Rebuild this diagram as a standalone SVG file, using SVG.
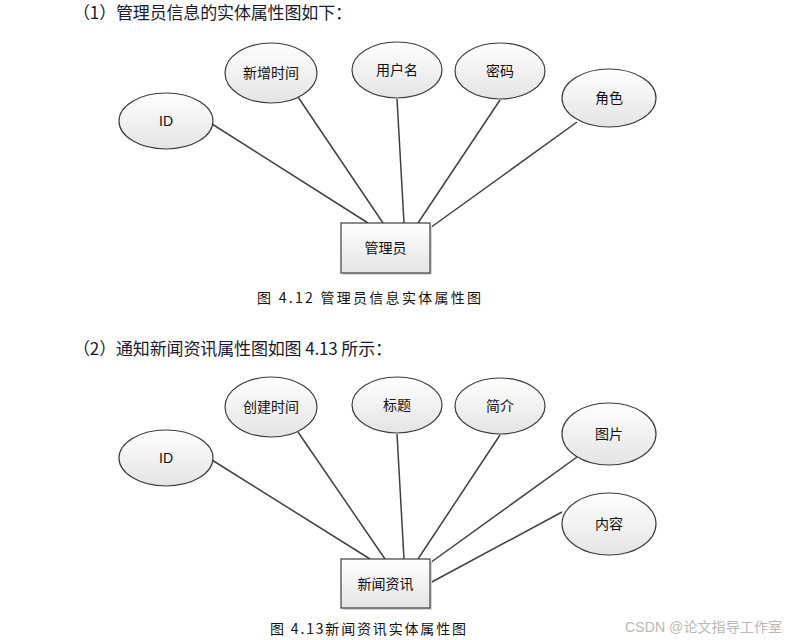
<svg xmlns="http://www.w3.org/2000/svg" width="789" height="640" viewBox="0 0 789 640">
<defs>
<linearGradient id="g" x1="0" y1="0" x2="0" y2="1">
<stop offset="0" stop-color="#ffffff"/>
<stop offset="1" stop-color="#e4e4e4"/>
</linearGradient>
<style>
.e{fill:url(#g);stroke:#3c3c3c;stroke-width:1.2}
.r{fill:url(#g);stroke:#3c3c3c;stroke-width:1.2}
.sh{fill:#d8d8d8;stroke:none}
.c line{stroke:#404040;stroke-width:1.5}
.t{font-family:"Liberation Sans","Noto Sans CJK SC",sans-serif;font-size:14px;fill:#111;text-anchor:middle;dominant-baseline:central}
.h{font-family:"Noto Sans CJK SC","Liberation Serif",serif;font-size:17px;fill:#1a1a2e}
.cap{font-family:"Noto Sans CJK SC","Liberation Serif",serif;font-size:14px;fill:#111}
.wm{font-family:"Liberation Sans","Noto Sans CJK SC",sans-serif;font-size:14px;fill:#b8b8b8}
</style>
</defs>
<rect width="789" height="640" fill="#fff"/>
<text class="h" x="73" y="19" textLength="279" lengthAdjust="spacing">（1）管理员信息的实体属性图如下：</text>
<g class="c">
<line x1="212" y1="124" x2="368" y2="223"/>
<line x1="298" y1="97" x2="383" y2="223"/>
<line x1="397" y1="99" x2="404" y2="223"/>
<line x1="500" y1="100" x2="418" y2="223"/>
<line x1="577" y1="122" x2="430" y2="228"/>
</g>
<g id="n-id1"><ellipse class="e" cx="166" cy="121" rx="47" ry="28"/><text class="t" x="166" y="121">ID</text></g>
<g id="n-time1"><ellipse class="e" cx="271" cy="73" rx="46" ry="30"/><text class="t" x="271" y="73">新增时间</text></g>
<g id="n-user"><ellipse class="e" cx="397" cy="70" rx="45" ry="28"/><text class="t" x="397" y="70">用户名</text></g>
<g id="n-pwd"><ellipse class="e" cx="500" cy="71" rx="45" ry="28"/><text class="t" x="500" y="71">密码</text></g>
<g id="n-role"><ellipse class="e" cx="609" cy="98" rx="47" ry="29"/><text class="t" x="609" y="98">角色</text></g>
<g id="n-admin"><rect class="sh" x="343" y="225" width="89" height="50"/><rect class="r" x="341" y="223" width="89" height="50"/><text class="t" x="385.5" y="248">管理员</text></g>
<text class="cap" x="257" y="303" textLength="224" lengthAdjust="spacing">图 4.12  管理员信息实体属性图</text>

<text class="h" x="73" y="355" textLength="319" lengthAdjust="spacing">（2）通知新闻资讯属性图如图 4.13 所示：</text>
<g class="c">
<line x1="212" y1="460" x2="370" y2="559"/>
<line x1="298" y1="432" x2="385" y2="559"/>
<line x1="397" y1="434" x2="404" y2="559"/>
<line x1="500" y1="435" x2="418" y2="559"/>
<line x1="577" y1="457" x2="430" y2="563"/>
<line x1="562" y1="512" x2="430" y2="583"/>
</g>
<g id="n-id2"><ellipse class="e" cx="166" cy="458" rx="47" ry="28"/><text class="t" x="166" y="458">ID</text></g>
<g id="n-time2"><ellipse class="e" cx="271" cy="407" rx="46" ry="30"/><text class="t" x="271" y="407">创建时间</text></g>
<g id="n-title"><ellipse class="e" cx="397" cy="405" rx="45" ry="28"/><text class="t" x="397" y="405">标题</text></g>
<g id="n-intro"><ellipse class="e" cx="500" cy="406" rx="45" ry="28"/><text class="t" x="500" y="406">简介</text></g>
<g id="n-pic"><ellipse class="e" cx="609" cy="434" rx="47" ry="31"/><text class="t" x="609" y="434">图片</text></g>
<g id="n-content"><ellipse class="e" cx="609" cy="524" rx="47" ry="31"/><text class="t" x="609" y="524">内容</text></g>
<g id="n-news"><rect class="sh" x="343" y="561" width="89" height="49"/><rect class="r" x="341" y="559" width="89" height="49"/><text class="t" x="385.5" y="583.5">新闻资讯</text></g>
<text class="cap" x="270" y="634" textLength="196" lengthAdjust="spacing">图 4.13新闻资讯实体属性图</text>
<text class="wm" x="625" y="632" textLength="157" lengthAdjust="spacing">CSDN @论文指导工作室</text>
</svg>
